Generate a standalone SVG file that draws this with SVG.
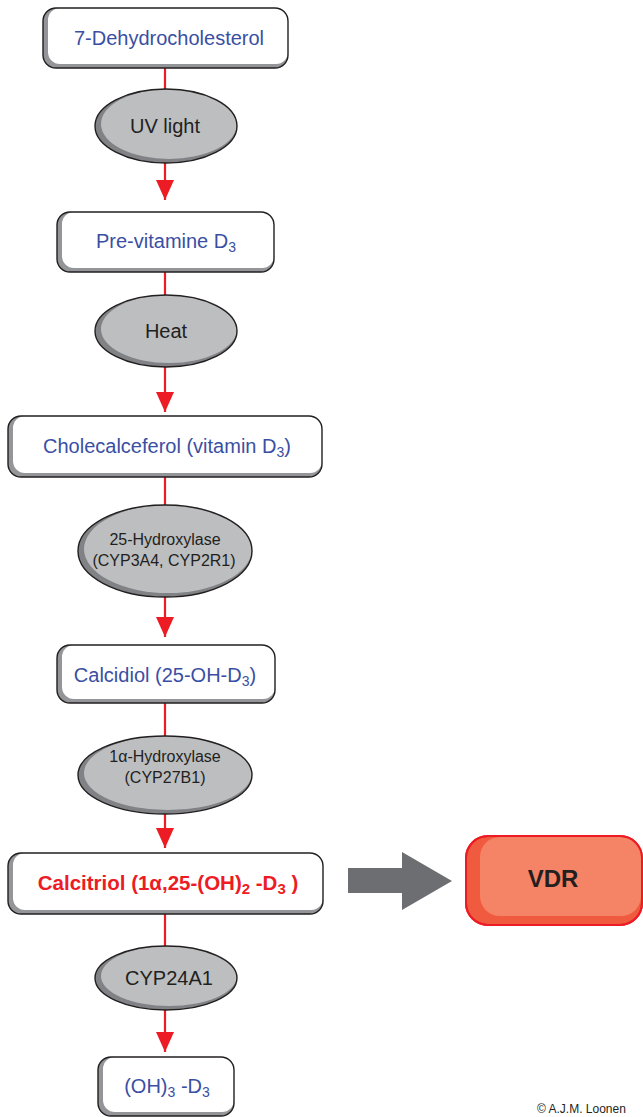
<svg xmlns="http://www.w3.org/2000/svg" width="643" height="1117" viewBox="0 0 643 1117">
<style>
.shadow{fill:#939598;}
.face{fill:#ffffff;}
.outline{fill:none;stroke:#231f20;stroke-width:1.4;}
.eshadow{fill:#808285;}
.eface{fill:#bcbec0;}
.lbl{font-family:"Liberation Sans",Arial,sans-serif;font-size:20px;fill:#3a4fa3;text-anchor:middle;}
.elbl{font-family:"Liberation Sans",Arial,sans-serif;font-size:20px;fill:#231f20;text-anchor:middle;}
.elbl2{font-family:"Liberation Sans",Arial,sans-serif;font-size:16px;fill:#231f20;text-anchor:middle;}
.conn{stroke:#ed1c24;stroke-width:2.2;fill:none;}
.head{fill:#ed1c24;}
</style>
<defs>
<marker id="ah" viewBox="0 0 20 18" refX="20" refY="9" markerWidth="20" markerHeight="18" markerUnits="userSpaceOnUse" orient="auto">
<path d="M0,0 L20,9 L0,18 Z" class="head"/>
</marker>
</defs>

<g id="connectors">
<line class="conn" x1="165" y1="68" x2="165" y2="90"/>
<line class="conn" x1="165" y1="162" x2="165" y2="200" marker-end="url(#ah)"/>
<line class="conn" x1="165" y1="272" x2="165" y2="296"/>
<line class="conn" x1="165" y1="366" x2="165" y2="412" marker-end="url(#ah)"/>
<line class="conn" x1="165" y1="477" x2="165" y2="506"/>
<line class="conn" x1="165" y1="596" x2="165" y2="637" marker-end="url(#ah)"/>
<line class="conn" x1="165" y1="703" x2="165" y2="736"/>
<line class="conn" x1="165" y1="813" x2="165" y2="848" marker-end="url(#ah)"/>
<line class="conn" x1="165" y1="914" x2="165" y2="947"/>
<line class="conn" x1="165" y1="1009" x2="165" y2="1052" marker-end="url(#ah)"/>
<polygon id="gray-arrow" points="348,868 402,868 402,852 452,881 402,910 402,893 348,893" fill="#6d6e71"/>
</g>

<g id="n-7dhc">
<rect class="shadow" x="43" y="8" width="245" height="60" rx="13"/>
<rect class="face" x="48" y="8" width="240" height="56" rx="12"/>
<rect class="outline" x="43" y="8" width="245" height="60" rx="13"/>
<text class="lbl" x="169" y="45">7-Dehydrocholesterol</text>
</g>

<g id="n-uv">
<ellipse class="eshadow" cx="166" cy="126" rx="71" ry="37"/>
<ellipse class="eface" cx="169" cy="124" rx="68" ry="35"/>
<ellipse class="outline" cx="166" cy="126" rx="71" ry="37"/>
<text class="elbl" x="165" y="133">UV light</text>
</g>

<g id="n-previtd3">
<rect class="shadow" x="57" y="212" width="217" height="60" rx="13"/>
<rect class="face" x="62" y="212" width="212" height="56" rx="12"/>
<rect class="outline" x="57" y="212" width="217" height="60" rx="13"/>
<text class="lbl" x="166" y="248">Pre-vitamine D<tspan font-size="14" dy="4">3</tspan></text>
</g>

<g id="n-heat">
<ellipse class="eshadow" cx="166" cy="331" rx="71" ry="36"/>
<ellipse class="eface" cx="169" cy="329" rx="68" ry="34"/>
<ellipse class="outline" cx="166" cy="331" rx="71" ry="36"/>
<text class="elbl" x="166" y="338">Heat</text>
</g>

<g id="n-cholecalciferol">
<rect class="shadow" x="8" y="416" width="314" height="61" rx="13"/>
<rect class="face" x="13" y="416" width="309" height="57" rx="12"/>
<rect class="outline" x="8" y="416" width="314" height="61" rx="13"/>
<text class="lbl" x="167" y="453">Cholecalceferol (vitamin D<tspan font-size="14" dy="4">3</tspan><tspan dy="-4">)</tspan></text>
</g>

<g id="n-25hydroxylase">
<ellipse class="eshadow" cx="165" cy="551" rx="87" ry="46"/>
<ellipse class="eface" cx="168" cy="549" rx="84" ry="44"/>
<ellipse class="outline" cx="165" cy="551" rx="87" ry="46"/>
<text class="elbl2" x="165" y="545">25-Hydroxylase</text>
<text class="elbl2" x="164" y="566">(CYP3A4, CYP2R1)</text>
</g>

<g id="n-calcidiol">
<rect class="shadow" x="57" y="645" width="218" height="58" rx="13"/>
<rect class="face" x="62" y="645" width="213" height="54" rx="12"/>
<rect class="outline" x="57" y="645" width="218" height="58" rx="13"/>
<text class="lbl" x="165" y="682">Calcidiol (25-OH-D<tspan font-size="14" dy="4">3</tspan><tspan dy="-4">)</tspan></text>
</g>

<g id="n-1ahydroxylase">
<ellipse class="eshadow" cx="165" cy="775" rx="87" ry="39"/>
<ellipse class="eface" cx="168" cy="773" rx="84" ry="37"/>
<ellipse class="outline" cx="165" cy="775" rx="87" ry="39"/>
<text class="elbl2" x="165" y="762">1α-Hydroxylase</text>
<text class="elbl2" x="165" y="783">(CYP27B1)</text>
</g>

<g id="n-calcitriol">
<rect class="shadow" x="8" y="853" width="315" height="61" rx="13"/>
<rect class="face" x="13" y="853" width="310" height="57" rx="12"/>
<rect class="outline" x="8" y="853" width="315" height="61" rx="13"/>
<text x="168" y="890" font-family="'Liberation Sans',Arial,sans-serif" font-size="20.5" font-weight="bold" fill="#ed1c24" text-anchor="middle">Calcitriol (1α,25-(OH)<tspan font-size="15" dy="4">2</tspan><tspan dy="-4"> -D</tspan><tspan font-size="15" dy="4">3</tspan><tspan dy="-4"> )</tspan></text>
</g>

<g id="n-vdr">
<rect x="466" y="836" width="176" height="89" rx="22" fill="#f05a3e" stroke="#ed1c24" stroke-width="2"/>
<rect x="480" y="837" width="161" height="79" rx="20" fill="#f58466"/>
<rect x="466" y="836" width="176" height="89" rx="22" fill="none" stroke="#ed1c24" stroke-width="2"/>
<text x="553" y="887" font-family="'Liberation Sans',Arial,sans-serif" font-size="24" font-weight="bold" fill="#231f20" text-anchor="middle">VDR</text>
</g>

<g id="n-cyp24a1">
<ellipse class="eshadow" cx="166" cy="978" rx="71" ry="32"/>
<ellipse class="eface" cx="169" cy="976" rx="68" ry="30"/>
<ellipse class="outline" cx="166" cy="978" rx="71" ry="32"/>
<text class="elbl" x="169" y="985">CYP24A1</text>
</g>

<g id="n-oh3d3">
<rect class="shadow" x="98" y="1057" width="136" height="59" rx="13"/>
<rect class="face" x="103" y="1057" width="131" height="55" rx="12"/>
<rect class="outline" x="98" y="1057" width="136" height="59" rx="13"/>
<text class="lbl" x="167" y="1093">(OH)<tspan font-size="14" dy="4">3</tspan><tspan dy="-4"> -D</tspan><tspan font-size="14" dy="4">3</tspan></text>
</g>

<text id="copyright" x="537" y="1113" font-family="'Liberation Sans',Arial,sans-serif" font-size="12" fill="#231f20">© A.J.M. Loonen</text>
</svg>
